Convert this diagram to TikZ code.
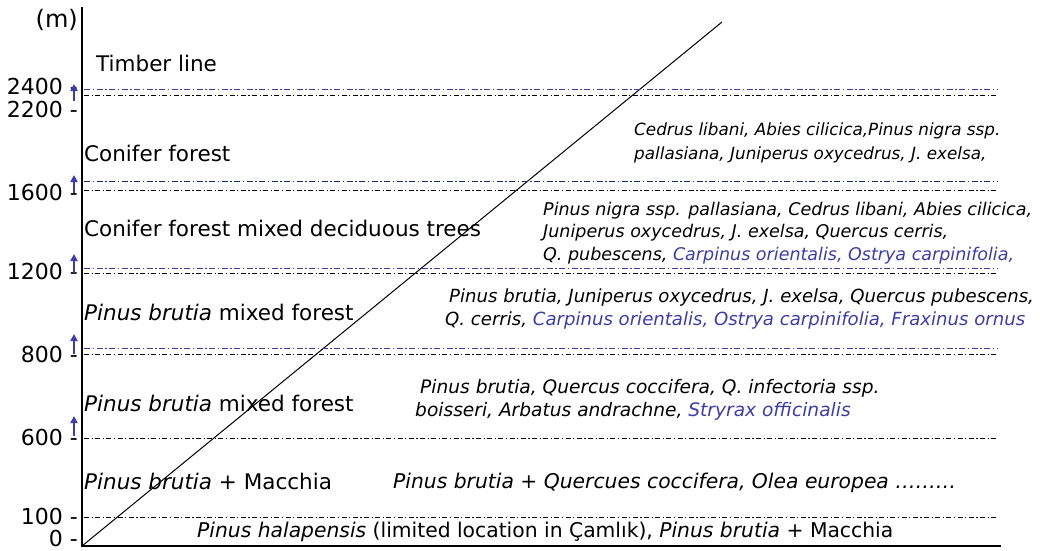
\documentclass[tikz,border=0pt]{standalone}
\usepackage{fontspec}
\setmainfont{DejaVu Sans}
\usetikzlibrary{arrows.meta}
\definecolor{lblue}{RGB}{60,60,170}
\definecolor{navy}{RGB}{20,50,110}
\begin{document}
\begin{tikzpicture}[x=1pt,y=-1pt,
  lab/.style={inner sep=0pt,anchor=west,font=\fontsize{21.5}{25}\selectfont},
  ylab/.style={inner sep=0pt,anchor=east,font=\fontsize{22}{25}\selectfont},
  sp/.style={inner sep=0pt,anchor=west,font=\fontsize{18.1}{21}\selectfont\itshape},
  spb/.style={sp,font=\fontsize{17.5}{20}\selectfont\itshape},
  bl/.style={inner sep=0pt,anchor=west,font=\fontsize{20.3}{23}\selectfont},
  bline/.style={lblue,line width=1pt,dash pattern=on 6pt off 2.5pt on 1.5pt off 2.5pt},
  nline/.style={navy,line width=1pt,dash pattern=on 6pt off 2.5pt on 1.5pt off 2.5pt},
  kline/.style={black,line width=0.75pt,dash pattern=on 5pt off 2.5pt on 1.2pt off 2.5pt},
  up/.style={lblue,line width=1.8pt,-{Triangle[width=7pt,length=7pt]}},
]
\useasboundingbox (0,0) rectangle (1040,550);
% axes
\coordinate (o) at (82,546);
\coordinate (ytop) at (82,7);
\coordinate (xend) at (1001,546);
\coordinate (dtop) at (722,22);
\draw[line width=1.8pt] (ytop) -- (o) -- (xend);
\draw[line width=1pt] (o) -- (dtop);
% level lines
\foreach \n/\y in {a/89,b/181,c/268,d/348}{
  \coordinate (\n l) at (84,\y); \coordinate (\n r) at (997,\y);}
\foreach \n/\y in {e/95,f/190,g/273,h/354,i/438,j/517}{
  \coordinate (\n l) at (84,\y); \coordinate (\n r) at (997,\y);}
\draw[bline] (al) -- (ar);
\draw[nline] (bl) -- (br);
\draw[bline] (cl) -- (cr);
\draw[bline] (dl) -- (dr);
\foreach \n in {e,f,g,h,i,j} \draw[kline] (\n l) -- (\n r);
% axis labels
\node[ylab,font=\fontsize{24}{26}\selectfont] (m) at (78,20) {(m)};
\node[ylab] (t2400) at (78,86) {2400 -};
\node[ylab] (t2200) at (78,109) {2200 -};
\node[ylab] (t1600) at (78,192) {1600 -};
\node[ylab] (t1200) at (78,271) {1200 -};
\node[ylab] (t800) at (78,354) {800 -};
\node[ylab] (t600) at (78,437) {600 -};
\node[ylab] (t100) at (78,516) {100 -};
\node[ylab] (t0) at (78,538) {0 -};
% arrows
\foreach \n/\a/\b in {p/101/84,q/193/175,r/273/254,s/354/334,t/436/416}{
  \coordinate (\n0) at (74,\a); \coordinate (\n1) at (74,\b);
  \draw[up] (\n0) -- (\n1);}
% zone names
\node[lab] (z1) at (96,63) {Timber line};
\node[lab] (z2) at (84,153) {Conifer forest};
\node[lab] (z3) at (84,228) {Conifer forest mixed deciduous trees};
\node[lab] (z4) at (84,312) {\textit{Pinus brutia} mixed forest};
\node[lab] (z5) at (84,403) {\textit{Pinus brutia} mixed forest};
\node[lab] (z6) at (84,481) {\textit{Pinus brutia} + Macchia};
% species
\node[sp,font=\fontsize{16.8}{20}\selectfont\itshape] (s1a) at (634,131) {Cedrus libani, Abies cilicica,Pinus nigra ssp.};
\node[sp,font=\fontsize{16.8}{20}\selectfont\itshape] (s1b) at (634,155) {pallasiana, Juniperus oxycedrus, J. exelsa,};
\node[spb] (s2a) at (543,211) {Pinus nigra ssp. pallasiana, Cedrus libani, Abies cilicica,};
\node[spb] (s2b) at (543,233) {Juniperus oxycedrus, J. exelsa, Quercus cerris,};
\node[spb] (s2c) at (543,256) {Q. pubescens, \textcolor{lblue}{Carpinus orientalis, Ostrya carpinifolia,}};
\node[sp] (s3a) at (449,297) {Pinus brutia, Juniperus oxycedrus, J. exelsa, Quercus pubescens,};
\node[sp] (s3b) at (445,320) {Q. cerris, \textcolor{lblue}{Carpinus orientalis, Ostrya carpinifolia, Fraxinus ornus}};
\node[sp,font=\fontsize{18.6}{21}\selectfont\itshape] (s4a) at (420,388) {Pinus brutia, Quercus coccifera, Q. infectoria ssp.};
\node[sp,font=\fontsize{18.6}{21}\selectfont\itshape] (s4b) at (415,411) {boisseri, Arbatus andrachne, \textcolor{lblue}{Stryrax officinalis}};
\node[bl] (s5) at (393,483) {\textit{Pinus brutia} + \textit{Quercues coccifera, Olea europea ………}};
\node[bl] (s6) at (197,532) {\textit{Pinus halapensis} (limited location in Çamlık), \textit{Pinus brutia} + Macchia};
\end{tikzpicture}
\end{document}
